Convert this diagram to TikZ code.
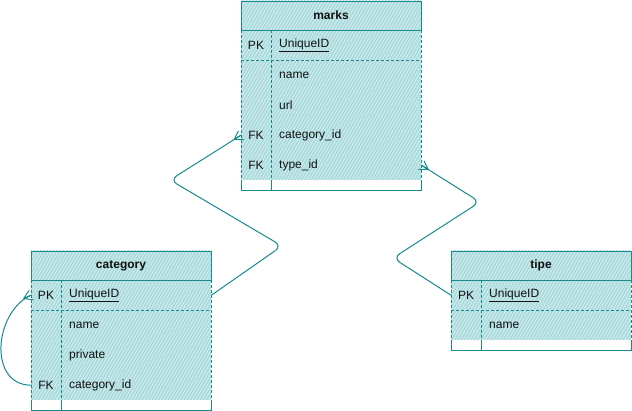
\documentclass[tikz,border=0pt]{standalone}
\usepackage{fontspec}
\setmainfont{Liberation Sans}
\usetikzlibrary{patterns.meta,calc}

\definecolor{erline}{HTML}{168A8C}
\definecolor{erhatch}{HTML}{A8DADC}
\definecolor{ertext}{HTML}{111111}

\tikzset{
  hatched/.style={pattern={Lines[angle=60,distance=2.8pt,line width=1.5pt]},pattern color=erhatch},
  framesolid/.style={draw=erline,line width=0.9pt},
  framedash/.style={draw=erline,line width=0.8pt,dash pattern=on 3pt off 2pt},
  rowcell/.style={minimum width=180pt,minimum height=30pt,inner sep=0pt,anchor=north west},
  titletxt/.style={text=ertext,font=\fontsize{12}{14}\selectfont\bfseries,inner sep=0pt},
  keytxt/.style={text=ertext,font=\fontsize{12}{14}\selectfont,inner sep=0pt},
  fieldtxt/.style={text=ertext,font=\fontsize{12}{14}\selectfont,inner sep=0pt,anchor=west},
  conn/.style={draw=erline,line width=1pt,line cap=round,line join=round},
}

% Table body: #1 left, #2 top, #3 number of body rows
\newcommand{\ertable}[3]{%
  \pgfmathsetmacro\erRgt{#1+180}
  \pgfmathsetmacro\erHdr{#2+29}
  \pgfmathsetmacro\erPk{\erHdr+30}
  \pgfmathsetmacro\erRows{\erHdr+30*#3}
  \pgfmathsetmacro\erEnd{\erRows+10}
  \pgfmathsetmacro\erKey{#1+30}
  \fill[white] (#1,#2) rectangle (\erRgt,\erEnd);
  \fill[erhatch!55] (#1,#2) rectangle (\erRgt,\erRows);
  \fill[hatched] (#1,#2) rectangle (\erRgt,\erRows);
  \draw[framesolid] (#1,#2) rectangle (\erRgt,\erHdr);
  \draw[framedash] (#1,\erHdr) -- (#1,\erRows) (\erRgt,\erHdr) -- (\erRgt,\erRows)
                   (#1,\erPk) -- (\erRgt,\erPk) (\erKey,\erHdr) -- (\erKey,\erRows);
  \draw[framesolid] (#1,\erRows) -- (#1,\erEnd) -- (\erRgt,\erEnd) -- (\erRgt,\erRows)
                    (\erKey,\erRows) -- (\erKey,\erEnd);
}

% Crow's foot: #1 end point, #2 point the line comes from
\newcommand{\crowfoot}[2]{%
  \draw[conn] ($(#1)!8pt!(#2)$) -- ($(#1)!5pt!90:(#2)$)
              ($(#1)!8pt!(#2)$) -- ($(#1)!5pt!-90:(#2)$)
              ($(#1)!8pt!(#2)$) -- (#1);
}

\begin{document}
\begin{tikzpicture}[x=1pt,y=-1pt]
\useasboundingbox (0,0) rectangle (632,411);

% ---------- marks ----------
\ertable{241}{1}{5}
\node[titletxt] (m-title) at (331,15.5) {marks};
\node[rowcell] (m-pk)   at (241,30)  {};
\node[rowcell] (m-name) at (241,60)  {};
\node[rowcell] (m-url)  at (241,90)  {};
\node[rowcell] (m-cat)  at (241,120) {};
\node[rowcell] (m-type) at (241,150) {};
\node[keytxt]   (m-pk-k)   at (256,45) {PK};
\node[fieldtxt] (m-pk-f)   at (279,45) {\underline{UniqueID}};
\node[fieldtxt] (m-name-f) at (279,75) {name};
\node[fieldtxt] (m-url-f)  at (279,105) {url};
\node[keytxt]   (m-cat-k)  at (256,135) {FK};
\node[fieldtxt] (m-cat-f)  at (279,135) {category\_id};
\node[keytxt]   (m-type-k) at (256,165) {FK};
\node[fieldtxt] (m-type-f) at (279,165) {type\_id};

% ---------- category ----------
\ertable{31}{251}{4}
\node[titletxt] (c-title) at (121,265.5) {category};
\node[rowcell] (c-pk)   at (31,280) {};
\node[rowcell] (c-name) at (31,310) {};
\node[rowcell] (c-priv) at (31,340) {};
\node[rowcell] (c-fk)   at (31,370) {};
\node[keytxt]   (c-pk-k)   at (46,295) {PK};
\node[fieldtxt] (c-pk-f)   at (69,295) {\underline{UniqueID}};
\node[fieldtxt] (c-name-f) at (69,325) {name};
\node[fieldtxt] (c-priv-f) at (69,355) {private};
\node[keytxt]   (c-fk-k)   at (46,385) {FK};
\node[fieldtxt] (c-fk-f)   at (69,385) {category\_id};

% ---------- tipe ----------
\ertable{451}{251}{2}
\node[titletxt] (t-title) at (541,265.5) {tipe};
\node[rowcell] (t-pk)   at (451,280) {};
\node[rowcell] (t-name) at (451,310) {};
\node[keytxt]   (t-pk-k)   at (466,295) {PK};
\node[fieldtxt] (t-pk-f)   at (489,295) {\underline{UniqueID}};
\node[fieldtxt] (t-name-f) at (489,325) {name};

% ---------- relations ----------
\coordinate (r1a) at (282,246);
\coordinate (r1b) at (170,180);
\draw[conn,rounded corners=8pt] (c-pk.east) -- (r1a) -- (r1b) -- (m-cat.west);
\crowfoot{m-cat.west}{r1b}

\coordinate (r2a) at (393,258);
\coordinate (r2b) at (480,202);
\draw[conn,rounded corners=8pt] (t-pk.west) -- (r2a) -- (r2b) -- (m-type.east);
\crowfoot{m-type.east}{r2b}

\coordinate (r3a) at (-12,385);
\coordinate (r3b) at (-6,312);
\draw[conn] (c-fk.west) .. controls (r3a) and (r3b) .. (c-pk.west);
\crowfoot{c-pk.west}{r3b}

\end{tikzpicture}
\end{document}
